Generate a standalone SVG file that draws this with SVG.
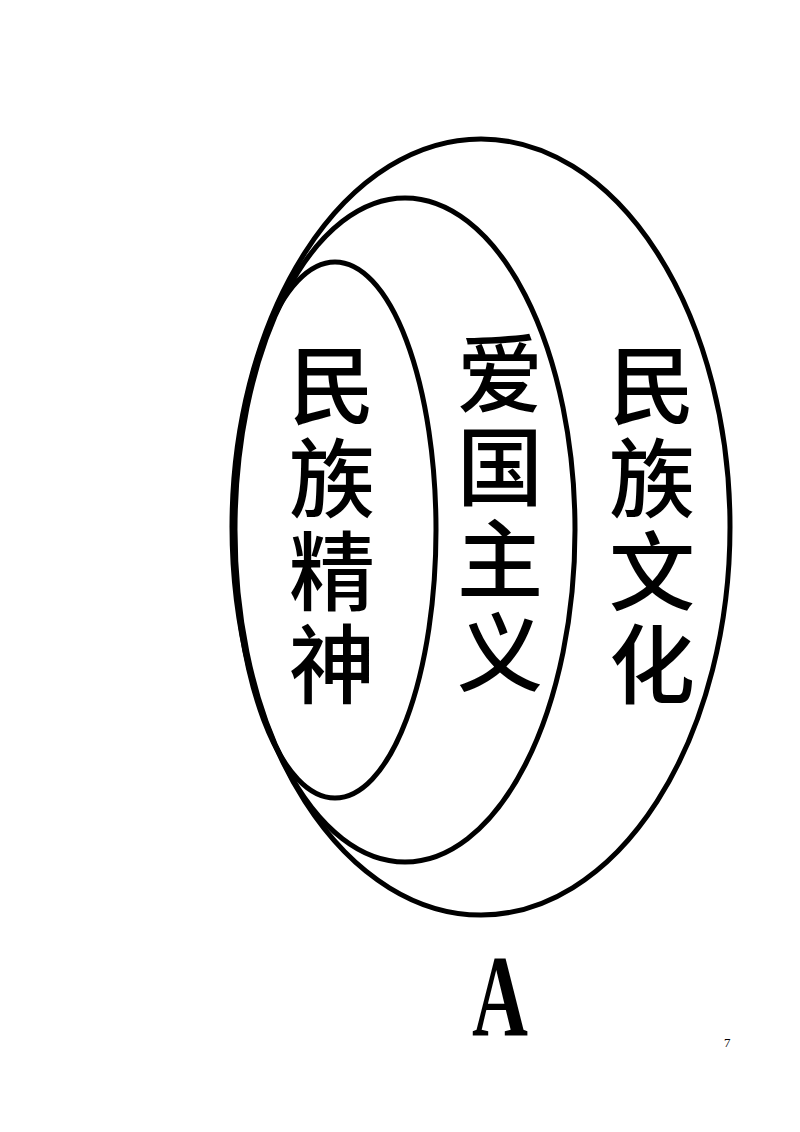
<svg xmlns="http://www.w3.org/2000/svg" width="800" height="1132" viewBox="0 0 800 1132">
<style>
.ring{fill:none;stroke:#000;stroke-width:5}
.cjk{font-family:"Noto Sans CJK SC","Noto Sans CJK JP",sans-serif;font-size:86px;font-weight:500;fill:#000;writing-mode:vertical-rl;letter-spacing:7px}
</style>
<rect width="800" height="1132" fill="#fff"/>
<g id="outer">
<ellipse class="ring" cx="481" cy="527" rx="249" ry="388"/>
<text class="cjk" x="652" y="342">民族文化</text>
</g>
<g id="middle">
<ellipse class="ring" cx="405" cy="530" rx="170" ry="332"/>
<text class="cjk" x="500" y="330">爱国主义</text>
</g>
<g id="inner">
<ellipse class="ring" cx="335" cy="530" rx="101" ry="268"/>
<text class="cjk" x="332" y="342">民族精神</text>
</g>
<g id="connectors"></g>
<text x="472" y="1035" font-family="Liberation Serif, serif" font-weight="bold" font-size="116" textLength="56" lengthAdjust="spacingAndGlyphs">A</text>
<text x="724" y="1047" font-family="Liberation Serif, serif" font-size="13">7</text>
</svg>
